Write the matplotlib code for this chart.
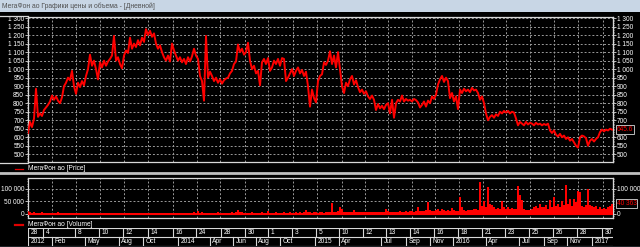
import numpy as np
import matplotlib
matplotlib.use('Agg')
import matplotlib.pyplot as plt
from matplotlib.lines import Line2D
from matplotlib.patches import Rectangle
from matplotlib.ticker import FuncFormatter, MultipleLocator

plt.rcParams['font.family'] = ['Liberation Sans', 'DejaVu Sans']

# Значения цены (шаг ~2 пикселя графика)
price = [
    625, 690, 660, 710, 885, 720, 740, 725, 760, 775,
    790, 810, 845, 820, 840, 815, 800, 835, 900, 920,
    950, 935, 990, 900, 855, 920, 895, 930, 905, 960,
    1000, 1085, 1020, 1050, 1000, 940, 1040, 1010, 1050, 1020,
    1045, 1060, 1080, 1195, 1050, 1070, 1030, 1005, 1080, 1110,
    1095, 1185, 1120, 1150, 1130, 1170, 1140, 1185, 1160, 1235,
    1200, 1225, 1190, 1210, 1150, 1120, 1140, 1100, 1070, 1050,
    1080, 1045, 1150, 1110, 1080, 1050, 1070, 1040, 1060, 1030,
    1070, 1045, 1075, 1120, 1080, 1060, 960, 930, 815, 1195,
    950, 985, 960, 930, 950, 920, 940, 915, 935, 945,
    # 2014-2015
    950, 975, 990, 1030, 1045, 1145, 1100, 1120, 1085, 1100,
    1155, 1050, 1000, 1020, 975, 990, 905, 1040, 1060, 1030,
    1065, 990, 1010, 1050, 1030, 1060, 1020, 1065, 1060, 930,
    950, 975, 1000, 960, 990, 1010, 975, 995, 960, 985,
    900, 780, 880, 830, 805, 930, 960, 970, 1040, 1025,
    1050, 1105, 1030, 1080, 1010, 1100, 1000, 900, 860, 920,
    900, 940, 960, 910, 935, 895, 865, 880, 855, 870,
    840, 825, 845, 820, 760, 795, 770, 785, 765, 790,
    800, 740, 820, 715, 800, 820, 810, 845, 810, 825,
    815, 820, 810, 825, 818, 805, 775,
    # 2015-2017
    790, 810, 780, 815, 800, 840, 825, 850, 910, 940,
    960, 925, 950, 930, 830, 860, 810, 840, 765, 880,
    860, 885, 870, 880, 865, 890, 875, 880, 860, 820,
    840, 800, 740, 700, 720, 730, 715, 735, 725, 750,
    740, 755, 745, 755, 740, 750, 745, 710, 670, 690,
    680, 670, 690, 675, 685, 680, 670, 685, 675, 680,
    670, 678, 672, 680, 640, 625, 640, 615, 605, 620,
    600, 610, 590, 600, 580, 590, 570, 550, 540, 600,
    610, 605, 595, 550, 580, 590, 575, 590, 600, 630,
    645, 635, 645, 640, 650, 645,
]

# Объём торгов
volume = [
    9000, 6000, 4000, 5000, 3000, 4000, 3000, 5000, 3000, 4000,
    3000, 4000, 3000, 2000, 3000, 5000, 3000, 2000, 3000, 4000,
    3000, 2000, 3000, 4000, 3000, 2000, 3000, 3000, 4000, 2000,
    3000, 4000, 2000, 3000, 3000, 2000, 4000, 3000, 3000, 2000,
    3000, 2000, 3000, 4000, 3000, 3000, 2000, 3000, 4000, 3000,
    3000, 2000, 4000, 3000, 3000, 2000, 3000, 3000, 2000, 4000,
    3000, 3000, 2000, 3000, 4000, 3000, 2000, 3000, 3000, 4000,
    3000, 2000, 3000, 4000, 3000, 3000, 2000, 4000, 3000, 3000,
    4000, 3000, 3000, 5000, 4000, 9000, 4000, 6000, 3000, 4000,
    3000, 4000, 3000, 4000, 3000, 5000, 3000, 4000, 3000, 4000,
    3000, 4000, 5000, 4000, 6000, 15000, 8000, 5000, 4000, 3000,
    4000, 3000, 5000, 4000, 3000, 4000, 3000, 5000, 4000, 3000,
    9000, 4000, 3000, 4000, 5000, 3000, 4000, 3000, 5000, 4000,
    4000, 5000, 3000, 4000, 6000, 4000, 5000, 4000, 6000, 14000,
    8000, 5000, 4000, 6000, 5000, 4000, 6000, 5000, 4000, 7000,
    5000, 6000, 44000, 8000, 6000, 12000, 25000, 18000, 7000, 6000,
    5000, 7000, 6000, 15000, 6000, 5000, 7000, 6000, 5000, 6000,
    7000, 5000, 6000, 8000, 6000, 5000, 7000, 6000, 8000, 17000,
    9000, 7000, 6000, 8000, 7000, 6000, 9000, 7000, 8000, 10000,
    8000, 12000, 9000, 8000, 10000, 25000, 12000, 10000, 12000, 15000,
    48000, 15000, 12000, 10000, 13000, 18000, 12000, 20000, 14000, 11000,
    13000, 10000, 22000, 14000, 12000, 10000, 68000, 25000, 14000, 12000,
    15000, 13000, 16000, 20000, 18000, 15000, 128000, 30000, 50000, 25000,
    108000, 40000, 35000, 25000, 20000, 22000, 18000, 50000, 25000, 20000,
    25000, 18000, 22000, 20000, 18000, 110000, 75000, 55000, 18000, 15000,
    14000, 16000, 20000, 25000, 30000, 22000, 40000, 28000, 25000, 35000,
    20000, 55000, 25000, 67000, 30000, 40000, 25000, 50000, 35000, 115000,
    40000, 60000, 30000, 57000, 45000, 90000, 85000, 30000, 25000, 35000,
    97000, 35000, 30000, 25000, 30000, 20000, 25000, 18000, 22000, 20000,
    25000, 30000, 40363,
]

last_price = 645.6
last_volume = 40363

# Подписи шкалы дат (верхняя строка - числа, нижняя - месяцы/годы)
day_labels = ['28', '4', '8', '10', '12', '14', '16', '24', '28', '30', '1', '3', '5',
              '10', '12', '13', '14', '16', '18', '21', '23', '25', '26', '28', '30']
month_labels = ['2012', 'Feb', 'May', 'Aug', 'Oct', '2014', 'Apr', 'Jun', 'Aug', 'Oct',
                '2015', 'Apr', 'Jul', 'Sep', 'Nov', '2016', 'Apr', 'Jul', 'Sep', 'Nov', '2017']

# Разметка в пикселях исходной картинки
day_px = [28, 43, 75, 99, 123, 148, 173, 196, 221, 245, 268, 292, 316,
          339, 363, 386, 410, 434, 458, 482, 505, 529, 553, 577, 602]
month_px = [28, 52, 85, 119, 143, 178, 210, 233, 256, 280,
            315, 339, 381, 406, 430, 453, 486, 519, 544, 567, 592]
grid_px = [52, 76, 100, 124, 148, 173, 197, 220, 245, 268, 293, 317,
           342, 365, 388, 412, 435, 459, 483, 506, 530, 554, 578, 603]

W, H = 640, 247
X0, X1 = 28, 613
FG = '#d8d8d8'
GRID = '#9a9a9a'
RED = '#ff0000'
FS = 4.7
FS_TXT = 4.8

fig = plt.figure(figsize=(W / 100, H / 100), dpi=100, facecolor='black')


def px_axes(x0, y0, x1, y1):
    return fig.add_axes([x0 / W, 1 - y1 / H, (x1 - x0) / W, (y1 - y0) / H])


def hline(y, x0, x1, color, lw):
    fig.add_artist(Line2D([x0 / W, x1 / W], [1 - y / H, 1 - y / H],
                          transform=fig.transFigure, color=color, lw=lw))


def to_units(px):
    return (px - X0) / 2.0


def thousands(v, pos=None):
    return f'{v:,.0f}'.replace(',', ' ')


# Заголовок окна
fig.add_artist(Rectangle((0, 1 - 12.5 / H), 1, 12.5 / H, transform=fig.transFigure,
                         facecolor='#c8d6e5', edgecolor='none'))
fig.text(2 / W, 1 - 6.5 / H, 'МегаФон ао Графики цены и объема - [Дневной]',
         fontsize=4.9, color='#505050', va='center', ha='left')

xs = np.arange(len(price))
xlim = (0, (X1 - X0) / 2.0)


def style_axes(ax, right_ticks, step, minor):
    ax.set_facecolor('black')
    ax.set_xlim(*xlim)
    for sp in ax.spines.values():
        sp.set_color(FG)
        sp.set_linewidth(0.9)
    ax.set_xticks([])
    for g in grid_px:
        ax.axvline(to_units(g), color=GRID, lw=0.7, ls=(0, (2, 2)), zorder=0)
    ax.yaxis.set_major_locator(MultipleLocator(step))
    ax.yaxis.set_minor_locator(MultipleLocator(minor))
    ax.yaxis.set_major_formatter(FuncFormatter(thousands))
    ax.tick_params(axis='y', which='both', colors=FG, labelcolor='white',
                   labelsize=FS, left=True, right=False, labelleft=True,
                   labelright=False, direction='out', pad=0.6)
    ax.tick_params(axis='y', which='major', length=2.2, width=0.6)
    ax.tick_params(axis='y', which='minor', length=1.0, width=0.5)
    # правая шкала - без подписи, закрытой значением последней цены
    sec = ax.secondary_yaxis('right')
    sec.set_yticks(right_ticks)
    sec.yaxis.set_major_formatter(FuncFormatter(thousands))
    sec.yaxis.set_minor_locator(MultipleLocator(minor))
    sec.spines['right'].set_color(FG)
    sec.tick_params(axis='y', which='both', colors=FG, labelcolor='white',
                    labelsize=FS, direction='out', pad=0.6)
    sec.tick_params(axis='y', which='major', length=2.2, width=0.6)
    sec.tick_params(axis='y', which='minor', length=1.0, width=0.5)


# Панель цены
ax = px_axes(X0, 16.7, X1, 162.3)
ax.set_ylim(453, 1308)
style_axes(ax, [v for v in range(500, 1301, 50) if v != 650], 50, 10)
for v in range(500, 1301, 50):
    ax.axhline(v, color=GRID, lw=0.7, ls=(0, (2, 2)), zorder=0)
ax.plot(xs, price, color=RED, lw=1.4, zorder=3)
ax.text(1.006, last_price, f'{last_price:.1f}', transform=ax.get_yaxis_transform(),
        fontsize=FS, color=RED, va='center', ha='left', zorder=10, clip_on=False,
        bbox=dict(boxstyle='square,pad=0.15', facecolor='black', edgecolor=FG, lw=0.6))

# Панель объёма
axv = px_axes(X0, 178, X1, 217.8)
axv.set_ylim(-17000, 143000)
style_axes(axv, [0, 100000], 50000, 10000)
for v in (50000, 100000):
    axv.axhline(v, color=GRID, lw=0.7, ls=(0, (2, 2)), zorder=0)
axv.bar(xs, volume, width=1.0, color=RED, linewidth=0, zorder=3)
axv.axhline(0, color=RED, lw=0.8, zorder=3)
axv.text(1.006, last_volume, thousands(last_volume), transform=axv.get_yaxis_transform(),
         fontsize=FS, color=RED, va='center', ha='left', zorder=10, clip_on=False,
         bbox=dict(boxstyle='square,pad=0.15', facecolor='black', edgecolor=FG, lw=0.6))

# Линии-разделители панелей
hline(16.5, 0, X0, FG, 0.9)
hline(162.5, 0, X0, FG, 0.9)
hline(173.2, 0, W, '#c0c0c0', 2.0)
hline(246.5, 0, W, '#9fb3c8', 1.0)

# Легенды
fig.add_artist(Line2D([15 / W, 23 / W], [1 - 168.5 / H] * 2, transform=fig.transFigure,
                      color='#e00000', lw=0.9))
fig.text(28 / W, 1 - 168.5 / H, 'МегаФон ао [Price]', fontsize=FS_TXT, color='white',
         va='center', ha='left')
fig.add_artist(Line2D([15 / W, 23 / W], [1 - 224.5 / H] * 2, transform=fig.transFigure,
                      color='#e00000', lw=1.6))
fig.text(28 / W, 1 - 224.5 / H, 'МегаФон ао [Volume]', fontsize=FS_TXT, color='white',
         va='center', ha='left')

# Шкала дат
axd = px_axes(X0, 228, X1, 246)
axd.set_facecolor('black')
axd.set_xlim(*xlim)
axd.set_ylim(0, 2)
axd.axis('off')
for yy in (0.05, 1.05, 1.97):
    axd.axhline(yy, color=FG, lw=0.8)
for lbl, p in zip(day_labels, day_px):
    axd.plot([to_units(p)] * 2, [1.05, 1.97], color=FG, lw=0.8)
    axd.text(to_units(p) + 1.2, 1.5, lbl, fontsize=FS_TXT, color='white', va='center', ha='left')
for lbl, p in zip(month_labels, month_px):
    axd.plot([to_units(p)] * 2, [0.05, 1.05], color=FG, lw=0.8)
    axd.text(to_units(p) + 1.2, 0.55, lbl, fontsize=FS_TXT, color='white', va='center', ha='left')

fig.savefig('out.png', dpi=100, facecolor='black')
